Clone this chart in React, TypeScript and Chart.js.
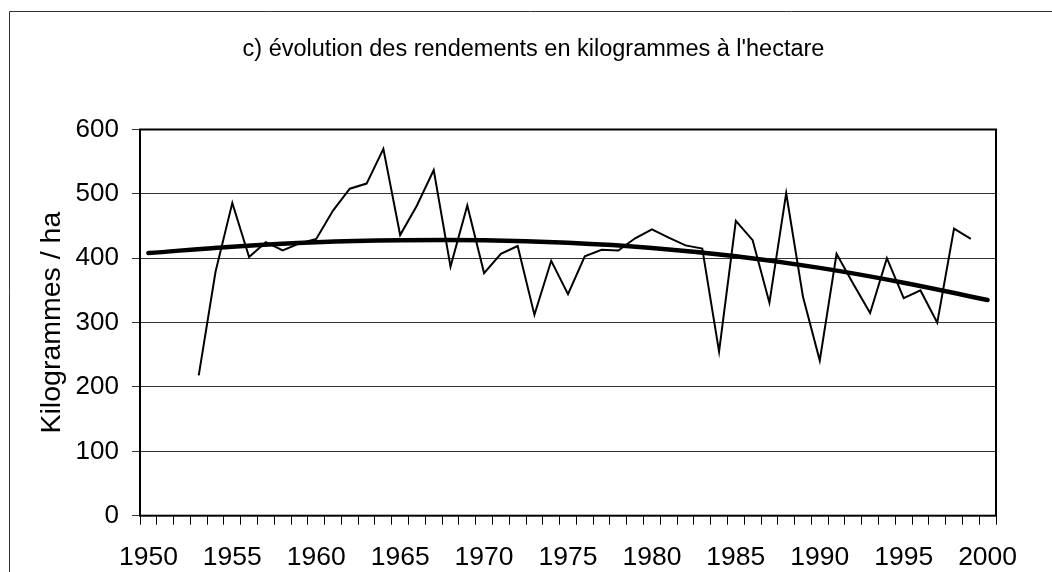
import React, { useEffect, useRef } from "react";
import { Chart, registerables } from "chart.js";

Chart.register(...registerables);

const years: string[] = [
  "1950", "1951", "1952", "1953", "1954", "1955", "1956", "1957", "1958", "1959",
  "1960", "1961", "1962", "1963", "1964", "1965", "1966", "1967", "1968", "1969",
  "1970", "1971", "1972", "1973", "1974", "1975", "1976", "1977", "1978", "1979",
  "1980", "1981", "1982", "1983", "1984", "1985", "1986", "1987", "1988", "1989",
  "1990", "1991", "1992", "1993", "1994", "1995", "1996", "1997", "1998", "1999",
  "2000",
];

const yields: (number | null)[] = [
  null, null, null, 218, 379, 486, 402, 425, 412, 423,
  430, 474, 508, 516, 570, 436, 482, 537, 387, 482,
  377, 407, 419, 312, 396, 344, 403, 413, 412, 431,
  445, 432, 420, 415, 255, 458, 428, 331, 501, 340,
  241, 407, 360, 315, 400, 338, 350, 300, 446, 430,
  null,
];

// polynomial trend read at 5-year marks
const trend: (number | null)[] = [
  408, null, null, null, null, 418, null, null, null, null,
  425, null, null, null, null, 428, null, null, null, null,
  428, null, null, null, null, 424, null, null, null, null,
  416, null, null, null, null, 403, null, null, null, null,
  385, null, null, null, null, 362, null, null, null, null,
  335,
];

const labeledYears: string[] = ["1950", "1955", "1960", "1965", "1970", "1975", "1980", "1985", "1990", "1995", "2000"];

const TITLE = "c) évolution des rendements en kilogrammes à l'hectare";
const Y_TITLE = "Kilogrammes / ha";
const FONT = "'Liberation Sans', Arial, Helvetica, sans-serif";

const framePlugin = {
  id: "frame",
  beforeDraw(chart: any) {
    const ctx = chart.ctx;
    ctx.save();
    ctx.fillStyle = "#ffffff";
    ctx.fillRect(0, 0, chart.width, chart.height);
    ctx.strokeStyle = "#333333";
    ctx.lineWidth = 1;
    ctx.beginPath();
    ctx.moveTo(9.5, chart.height);
    ctx.lineTo(9.5, 11.5);
    ctx.lineTo(chart.width, 11.5);
    ctx.stroke();
    // chart title
    ctx.fillStyle = "#000000";
    ctx.font = `23.5px ${FONT}`;
    ctx.textAlign = "center";
    ctx.textBaseline = "middle";
    ctx.fillText(TITLE, 533.5, 50);
    ctx.restore();
  },
  afterDraw(chart: any) {
    const { left, top, right, bottom } = chart.chartArea;
    const ctx = chart.ctx;
    ctx.save();
    ctx.strokeStyle = "#000000";
    ctx.lineWidth = 2;
    ctx.strokeRect(left, top, right - left, bottom - top);
    ctx.restore();
  },
};

export default function App() {
  const ref = useRef<HTMLCanvasElement | null>(null);

  useEffect(() => {
    if (!ref.current) return;
    const chart = new Chart(ref.current, {
      type: "line",
      data: {
        labels: years,
        datasets: [
          {
            label: "Rendement",
            data: yields,
            borderColor: "#000000",
            borderWidth: 2,
            pointRadius: 0,
            tension: 0,
            spanGaps: false,
            fill: false,
          },
          {
            label: "Tendance",
            data: trend,
            borderColor: "#000000",
            borderWidth: 4.5,
            pointRadius: 0,
            tension: 0.4,
            spanGaps: true,
            borderCapStyle: "round",
            fill: false,
          },
        ],
      },
      options: {
        animation: false,
        responsive: false,
        layout: { padding: { left: 0, right: 56, top: 129.5, bottom: 0 } },
        plugins: {
          legend: { display: false },
          tooltip: { enabled: false },
          title: { display: false },
        },
        scales: {
          x: {
            type: "category",
            offset: true,
            grid: {
              display: true,
              drawOnChartArea: false,
              drawTicks: true,
              tickLength: 9,
              offset: true,
              color: "#000000",
              lineWidth: 1,
            },
            border: { display: false },
            ticks: {
              autoSkip: false,
              maxRotation: 0,
              minRotation: 0,
              padding: 17,
              color: "#000000",
              font: { family: FONT, size: 26.5 },
              callback: (_v: any, i: number) => (labeledYears.includes(years[i]) ? years[i] : ""),
            },
            afterFit: (s: any) => {
              s.height = 56.3;
            },
          },
          y: {
            min: 0,
            max: 600,
            grid: {
              color: "#333333",
              lineWidth: 1,
              drawTicks: true,
              tickLength: 8,
            },
            border: { display: false },
            ticks: {
              stepSize: 100,
              padding: 13,
              color: "#000000",
              font: { family: FONT, size: 26 },
            },
            title: {
              display: true,
              text: Y_TITLE,
              color: "#000000",
              font: { family: FONT, size: 28.5 },
              padding: { top: 35, bottom: 0 },
            },
            afterFit: (s: any) => {
              s.width = 140;
            },
          },
        },
      },
      plugins: [framePlugin],
    });
    return () => chart.destroy();
  }, []);

  return (
    <div style={{ position: "absolute", left: 0, top: 0, width: 1052, height: 572 }}>
      <canvas ref={ref} width={1052} height={572} style={{ display: "block" }} />
    </div>
  );
}
